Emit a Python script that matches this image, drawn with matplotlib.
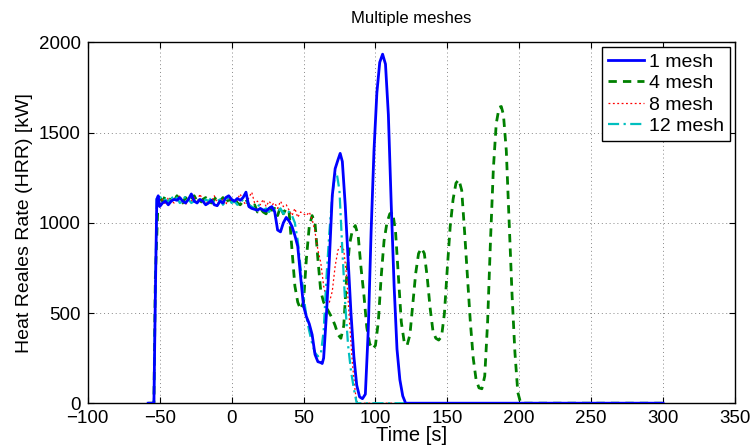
import matplotlib
matplotlib.use("Agg")
import matplotlib.pyplot as plt

plt.rcParams['font.family'] = ['Liberation Sans', 'DejaVu Sans']

# ---- data ----
t1 = [-58, -54, -53, -52, -51, -50, -48, -46, -44, -42, -40, -38, -36, -34, -32, -30, -28, -26, -24, -22,
      -20, -18, -16, -14, -12, -10, -8, -6, -4, -2, 0, 2, 4, 6, 8, 10, 12, 14, 16, 18, 20, 22, 24, 26, 28,
      30, 32, 34, 36, 38, 40, 42, 44, 46, 48, 50, 52, 54, 56, 58, 60, 62, 63, 64, 66, 68, 70, 72, 74, 75.5,
      77, 79, 81, 83, 85, 87, 89, 91, 93, 95, 97, 99, 101, 103, 105, 107, 109, 111, 113, 115, 117, 119, 121, 300]
y1 = [0, 0, 600, 1130, 1150, 1090, 1110, 1120, 1100, 1120, 1130, 1125, 1140, 1120, 1110, 1130, 1160, 1120, 1110, 1130,
      1120, 1100, 1110, 1125, 1100, 1095, 1120, 1110, 1140, 1150, 1130, 1120, 1135, 1125, 1140, 1170, 1090, 1080, 1075, 1070, 1080, 1070, 1065, 1080, 1090,
      1060, 960, 950, 1000, 1030, 1010, 980, 930, 870, 700, 540, 480, 440, 380, 270, 230, 225, 220, 250, 500, 800, 1150, 1300, 1350, 1385,
      1340, 1100, 800, 500, 260, 100, 35, 25, 50, 400, 950, 1400, 1720, 1890, 1935, 1880, 1600, 1100, 650, 300, 130, 40, 0, 0]

t4 = [-58, -54, -53, -51, -50, -48, -46, -44, -42, -40, -38, -36, -34, -32, -30, -28, -26, -24, -22, -20, -18, -16,
      -14, -12, -10, -8, -6, -4, -2, 0, 2, 4, 6, 8, 10, 12, 14, 16, 18, 20, 22, 24, 26, 28, 30, 32, 34, 36, 38,
      40, 42, 44, 46, 48, 50, 52, 54, 56, 58, 60, 62, 64, 66, 68, 70, 72, 74, 76, 78, 80, 82, 84, 86, 88, 90, 92, 94,
      96, 98, 100, 102, 104, 106, 108, 110, 112, 114, 116, 118, 120, 122, 124, 126, 128, 130, 132, 134, 136, 138,
      140, 142, 144, 146, 148, 150, 152, 154, 156, 158, 160, 162, 164, 166, 168, 170, 172, 174, 176, 178, 180, 182,
      184, 186, 187.5, 189, 191, 193, 195, 197, 199, 201, 300]
y4 = [0, 0, 700, 1150, 1140, 1120, 1150, 1110, 1140, 1120, 1150, 1130, 1110, 1140, 1120, 1130, 1150, 1120, 1110, 1130, 1140, 1120,
      1110, 1130, 1150, 1120, 1140, 1110, 1130, 1120, 1140, 1110, 1100, 1120, 1130, 1100, 1080, 1100, 1060, 1080, 1060, 1050, 1090, 1070, 1080, 1040, 1090, 1050, 1080,
      1060, 850, 650, 560, 520, 560, 800, 980, 1040, 1000, 800, 620, 560, 530, 500, 470, 430, 380, 360, 430, 700, 880, 960, 985, 930, 750, 600, 420,
      330, 300, 320, 450, 700, 900, 1000, 1050, 1060, 950, 700, 450, 340, 320, 380, 550, 720, 830, 860, 830, 700, 530,
      400, 360, 350, 370, 500, 750, 980, 1130, 1220, 1240, 1180, 950, 700, 450, 250, 130, 85, 80, 150, 450, 900, 1300,
      1550, 1640, 1645, 1600, 1400, 1000, 600, 280, 60, 0, 0]

t8 = [-58, -54, -53, -52, -50, -48, -46, -44, -42, -40, -38, -36, -34, -32, -30, -28, -26, -24, -22, -20, -18, -16,
      -14, -12, -10, -8, -6, -4, -2, 0, 2, 4, 6, 8, 10, 12, 14, 16, 18, 20, 22, 24, 26, 28, 30, 32, 34, 36, 38,
      40, 42, 44, 46, 48, 50, 52, 54, 56, 58, 60, 62, 64, 66, 68, 70, 72, 74, 76, 78, 80, 82, 84, 86, 87.5, 300]
y8 = [0, 0, 650, 1120, 1110, 1130, 1100, 1140, 1120, 1110, 1130, 1150, 1120, 1100, 1130, 1120, 1140, 1110, 1160, 1120, 1100, 1130,
      1120, 1150, 1110, 1120, 1130, 1100, 1140, 1120, 1110, 1130, 1160, 1120, 1100, 1140, 1170, 1110, 1120, 1100, 1130, 1090, 1120, 1100, 1110, 1080, 1120, 1090, 1100,
      1070, 1040, 1080, 1030, 1060, 1050, 1040, 1060, 1020, 950, 850, 780, 650, 580, 560, 620, 760, 850, 870, 850, 700, 450, 220, 60, 0, 0]

t12 = [-58, -54, -53, -52, -50, -48, -46, -44, -42, -40, -38, -36, -34, -32, -30, -28, -26, -24, -22, -20, -18, -16,
       -14, -12, -10, -8, -6, -4, -2, 0, 2, 4, 6, 8, 10, 12, 14, 16, 18, 20, 22, 24, 26, 28, 30, 32, 34, 36, 38,
       40, 42, 44, 46, 48, 50, 52, 54, 56, 58, 60, 62, 64, 66, 68, 70, 72, 73, 75, 77, 79, 81, 83, 85, 87, 300]
y12 = [0, 0, 620, 1140, 1150, 1120, 1130, 1110, 1150, 1120, 1140, 1110, 1120, 1150, 1130, 1110, 1120, 1140, 1120, 1110, 1130, 1120,
       1140, 1110, 1120, 1130, 1100, 1120, 1140, 1110, 1120, 1100, 1110, 1130, 1120, 1100, 1090, 1080, 1100, 1090, 1070, 1080, 1060, 1080, 1070, 1060, 1080, 1050, 1070,
       1060, 1040, 1000, 900, 750, 600, 480, 400, 330, 280, 260, 270, 400, 700, 950, 1150, 1270, 1280, 1180, 850, 550, 320, 180, 80, 0, 0]

labels = ['1 mesh', '4 mesh', '8 mesh', '12 mesh']
x_ticks = [-100, -50, 0, 50, 100, 150, 200, 250, 300, 350]
y_ticks = [0, 500, 1000, 1500, 2000]

# ---- plot ----
fig = plt.figure(figsize=(7.5, 4.47), dpi=100)
ax = fig.add_axes([0.117, 0.098, 0.863, 0.807])

ax.plot(t1, y1, color=(0, 0, 1), lw=2.0, ls='-', label=labels[0], zorder=4)
ax.plot(t4, y4, color=(0, 0.5, 0), lw=2.0, ls=(0, (3, 2.2)), label=labels[1], zorder=3)
ax.plot(t8, y8, color=(1, 0, 0), lw=0.9, ls=(0, (1.5, 2)), label=labels[2], zorder=3)
ax.plot(t12, y12, color=(0, 0.75, 0.75), lw=1.6, ls=(0, (5, 2, 1, 2)), label=labels[3], zorder=3)

ax.set_xlim(-100, 350)
ax.set_ylim(0, 2000)
ax.set_xticks(x_ticks)
ax.set_yticks(y_ticks)
ax.tick_params(direction='in', labelsize=13.5, length=4, top=True, right=True, width=0.8, pad=5)
ax.grid(True, ls=(0, (1, 3)), color='#888888', lw=0.7)
for s in ax.spines.values():
    s.set_linewidth(1.0)
    s.set_color('black')

ax.set_title('Multiple meshes', fontsize=12, pad=14)
ax.set_xlabel('Time [s]', fontsize=14.5, labelpad=-1)
ax.set_ylabel('Heat Reales Rate (HRR) [kW]', fontsize=14, labelpad=4)

leg = ax.legend(loc='upper right', fontsize=14, fancybox=False, framealpha=1, edgecolor='black',
                borderaxespad=0.25, handlelength=1.9, handletextpad=0.25, labelspacing=0.2, borderpad=0.3)
leg.get_frame().set_linewidth(1.0)

fig.savefig('out.png', dpi=100)
